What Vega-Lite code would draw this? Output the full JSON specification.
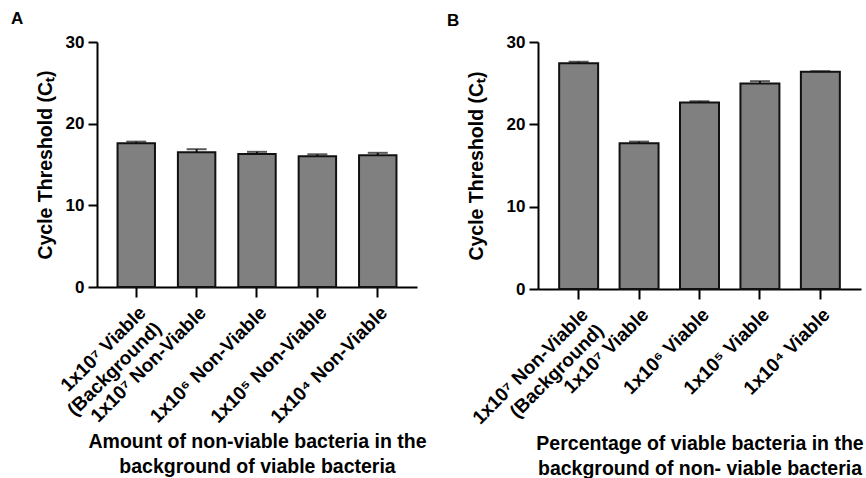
{
  "$schema": "https://vega.github.io/schema/vega-lite/v6.json",
  "padding": {"left": 11, "top": 10, "right": 0, "bottom": 0},
  "background": "white",
  "datasets": {
    "a": [
      {"label": "1x10⁷ Viable\n(Background)", "ct": 17.6, "upper": 17.8},
      {"label": "1x10⁷ Non-Viable", "ct": 16.5, "upper": 16.87},
      {"label": "1x10⁶ Non-Viable", "ct": 16.3, "upper": 16.55},
      {"label": "1x10⁵ Non-Viable", "ct": 16.0, "upper": 16.25},
      {"label": "1x10⁴ Non-Viable", "ct": 16.13, "upper": 16.43}
    ],
    "b": [
      {"label": "1x10⁷ Non-Viable\n(Background)", "ct": 27.43, "upper": 27.6},
      {"label": "1x10⁷ Viable", "ct": 17.7, "upper": 17.9},
      {"label": "1x10⁶ Viable", "ct": 22.65, "upper": 22.8},
      {"label": "1x10⁵ Viable", "ct": 24.96, "upper": 25.24},
      {"label": "1x10⁴ Viable", "ct": 26.4, "upper": 26.45}
    ]
  },
  "hconcat": [
    {
      "width": 320,
      "height": 245,
      "title": {"text": "A", "anchor": "start", "frame": "group", "dx": -86, "offset": 5},
      "data": {"name": "a"},
      "encoding": {
        "x": {
          "field": "label", "type": "nominal", "sort": null,
          "scale": {"paddingInner": 0.38, "paddingOuter": 0.34},
          "axis": {
            "title": ["Amount of non-viable bacteria in the", "background of viable bacteria"],
            "labelExpr": "split(datum.label, '\\n')"
          }
        }
      },
      "layer": [
        {
          "mark": {"type": "bar", "fill": "#808080", "stroke": "#111111", "strokeWidth": 2},
          "encoding": {
            "y": {"field": "ct", "type": "quantitative", "scale": {"domain": [0, 30]},
              "axis": {"title": "Cycle Threshold (Cₜ)", "values": [0, 10, 20, 30]}}
          }
        },
        {
          "mark": {"type": "rule", "color": "#111111", "strokeWidth": 2},
          "encoding": {"y": {"field": "ct", "type": "quantitative"}, "y2": {"field": "upper"}}
        },
        {
          "mark": {"type": "tick", "color": "#111111", "thickness": 2, "size": 20},
          "encoding": {"y": {"field": "upper", "type": "quantitative"}}
        }
      ]
    },
    {
      "width": 323,
      "height": 247,
      "title": {"text": "B", "anchor": "start", "frame": "group", "dx": -91, "offset": 3},
      "data": {"name": "b"},
      "encoding": {
        "x": {
          "field": "label", "type": "nominal", "sort": null,
          "scale": {"paddingInner": 0.355, "paddingOuter": 0.35},
          "axis": {
            "title": ["Percentage of viable bacteria in the", "background of non- viable bacteria"],
            "labelExpr": "split(datum.label, '\\n')"
          }
        }
      },
      "layer": [
        {
          "mark": {"type": "bar", "fill": "#808080", "stroke": "#111111", "strokeWidth": 2},
          "encoding": {
            "y": {"field": "ct", "type": "quantitative", "scale": {"domain": [0, 30]},
              "axis": {"title": "Cycle Threshold (Cₜ)", "values": [0, 10, 20, 30], "titlePadding": 20}}
          }
        },
        {
          "mark": {"type": "rule", "color": "#111111", "strokeWidth": 2},
          "encoding": {"y": {"field": "ct", "type": "quantitative"}, "y2": {"field": "upper"}}
        },
        {
          "mark": {"type": "tick", "color": "#111111", "thickness": 2, "size": 20},
          "encoding": {"y": {"field": "upper", "type": "quantitative"}}
        }
      ]
    }
  ],
  "spacing": 20,
  "config": {
    "view": {"stroke": null},
    "font": "Liberation Sans",
    "title": {"font": "Liberation Sans", "fontSize": 17, "fontWeight": "bold", "color": "black"},
    "axis": {
      "grid": false,
      "domainColor": "black", "domainWidth": 2,
      "tickColor": "black", "tickWidth": 2, "tickSize": 9,
      "labelFont": "Liberation Sans", "labelFontWeight": "bold", "labelFontSize": 17, "labelColor": "black",
      "titleFont": "Liberation Sans", "titleFontWeight": "bold", "titleFontSize": 19.5, "titleColor": "black"
    },
    "axisX": {
      "labelAngle": -45, "labelAlign": "right", "labelBaseline": "top", "labelPadding": 6,
      "labelFontSize": 19, "labelLineHeight": 22, "tickSize": 10, "titleLineHeight": 25, "titleY": 145
    },
    "axisY": {"labelPadding": 4, "titlePadding": 10}
  }
}
